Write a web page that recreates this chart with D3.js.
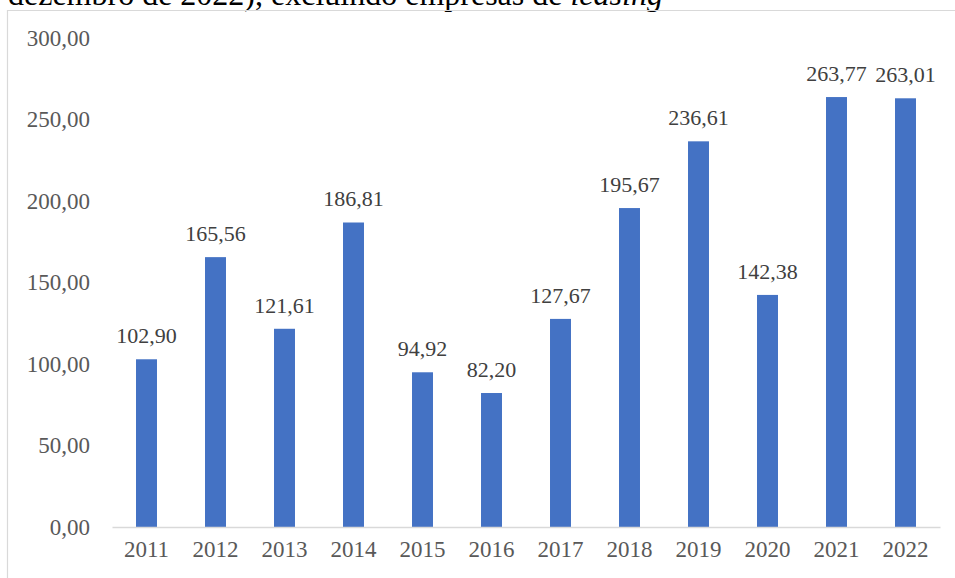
<!DOCTYPE html>
<html>
<head>
<meta charset="utf-8">
<script src="https://cdn.jsdelivr.net/npm/d3@7"></script>
<style>
  html, body { margin: 0; padding: 0; background: #fff; }
  svg { display: block; }
</style>
</head>
<body>
<svg id="chart" width="955" height="578"></svg>
<script>
// Years and values (dezembro de cada ano)
const years = ["2011", "2012", "2013", "2014", "2015", "2016", "2017", "2018", "2019", "2020", "2021", "2022"];
const values = [102.90, 165.56, 121.61, 186.81, 94.92, 82.20, 127.67, 195.67, 236.61, 142.38, 263.77, 263.01];
const yTicks = [0, 50, 100, 150, 200, 250, 300];

const svg = d3.select("#chart");
const W = 955, H = 578;
const serif = "'Liberation Serif', 'Times New Roman', serif";
const fmt = v => v.toFixed(2).replace(".", ",");

// Caption line above the chart box
const caption = svg.append("text")
  .attr("x", 8)
  .attr("y", 5)
  .attr("font-family", serif)
  .attr("font-size", 32)
  .attr("fill", "#000");
caption.append("tspan").text("dezembro de 2022), excluindo empresas de ");
caption.append("tspan").attr("font-style", "italic").text("leasing");

// Chart box border
svg.append("path")
  .attr("d", `M7.5,${H + 2} V10.5 H${W + 2}`)
  .attr("fill", "none")
  .attr("stroke", "#d9d9d9")
  .attr("stroke-width", 1.2);

const x = d3.scaleBand()
  .domain(years)
  .range([112, 940])
  .paddingInner(0.696)
  .paddingOuter(0.348);

const y = d3.scaleLinear()
  .domain([0, 300])
  .range([527, 38]);

// Y axis labels (no axis line, no gridlines)
const yAxis = svg.append("g")
  .attr("transform", "translate(90,0)")
  .call(d3.axisLeft(y).tickValues(yTicks).tickFormat(fmt).tickSize(0).tickPadding(0));
yAxis.select(".domain").remove();
yAxis.selectAll("text")
  .attr("font-family", serif)
  .attr("font-size", 23)
  .attr("fill", "#595959");

// Bars
svg.append("g")
  .selectAll("rect")
  .data(values)
  .join("rect")
  .attr("x", (d, i) => x(years[i]))
  .attr("width", x.bandwidth())
  .attr("y", d => y(d))
  .attr("height", d => y(0) - y(d))
  .attr("fill", "#4472C4");

// X axis baseline and year labels
const xAxis = svg.append("g")
  .attr("transform", `translate(0,${y(0)})`)
  .call(d3.axisBottom(x).tickSize(0).tickPadding(14));
xAxis.select(".domain")
  .attr("stroke", "#d9d9d9")
  .attr("stroke-width", 1.5);
xAxis.selectAll("text")
  .attr("font-family", serif)
  .attr("font-size", 23)
  .attr("fill", "#595959");

// Value labels above bars
svg.append("g")
  .selectAll("text")
  .data(values)
  .join("text")
  .attr("x", (d, i) => x(years[i]) + x.bandwidth() / 2)
  .attr("y", d => y(d) - 16)
  .attr("text-anchor", "middle")
  .attr("font-family", serif)
  .attr("font-size", 22)
  .attr("fill", "#404040")
  .text(d => fmt(d));
</script>
</body>
</html>
